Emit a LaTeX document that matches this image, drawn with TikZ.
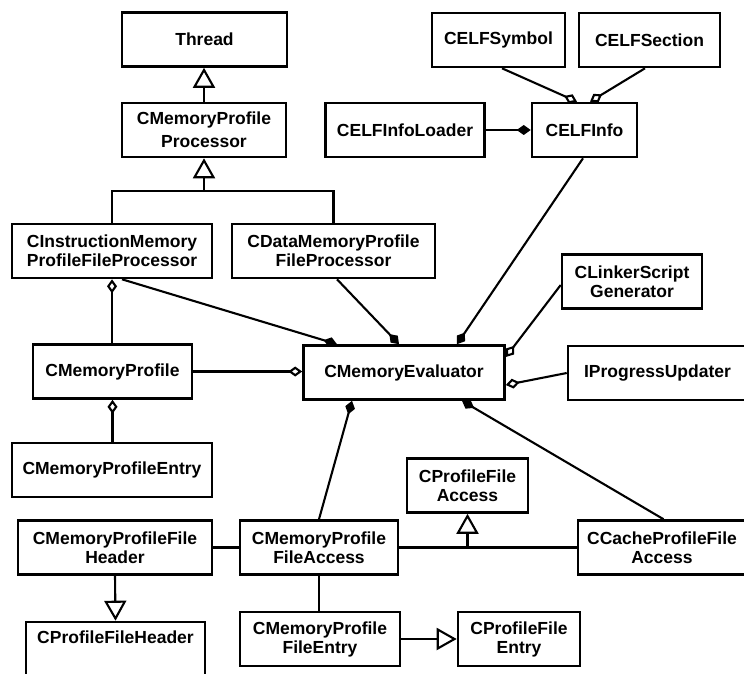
\documentclass[tikz,border=0pt]{standalone}
\usepackage{fontspec}
\setmainfont{Liberation Sans}
\usetikzlibrary{arrows.meta}
\begin{document}
\begin{tikzpicture}[x=1pt,y=-1pt,
  cls/.style={draw, line width=2.6pt, inner sep=0pt, align=center,
    font=\fontsize{17.5}{19}\selectfont\bfseries, minimum height=54pt},
  conn/.style={line width=2.1pt},
  inherit/.style={conn, -{Triangle[open,length=20pt,width=22pt]}},
  comp/.style={conn, -{Diamond[length=14pt,width=10pt]}},
  aggr/.style={conn, -{Diamond[open,length=14pt,width=10pt]}},
  aggrstart/.style={conn, {Diamond[open,length=14pt,width=10pt]}-},
]
\useasboundingbox (0,0) rectangle (744,674);
\clip (0,0) rectangle (744,674);
\fill[white] (0,0) rectangle (744,674);

% classes
\node[cls, minimum width=165pt] (thread) at (204.5,39.5) {Thread};
\node[cls, minimum width=164pt, font=\fontsize{17.5}{23}\selectfont\bfseries] (proc) at (204,130) {CMemoryProfile\\Processor};
\node[cls, minimum width=200pt] (instr) at (112,251) {CInstructionMemory\\ProfileFileProcessor};
\node[cls, minimum width=203pt] (data) at (333.5,251) {CDataMemoryProfile\\FileProcessor};
\node[cls, minimum width=133pt] (sym) at (498.5,40) {CELFSymbol};
\node[cls, minimum width=141pt] (sec) at (649.5,40) {CELFSection};
\node[cls, minimum width=159pt] (loader) at (405,130) {CELFInfoLoader};
\node[cls, minimum width=105pt] (elf) at (584.5,130) {CELFInfo};
\node[cls, minimum width=140pt] (linker) at (632,281.5) {CLinkerScript\\Generator};
\node[cls, minimum width=159pt] (profile) at (112.5,371.5) {CMemoryProfile};
\node[cls, minimum width=201pt] (eval) at (404,372.5) {CMemoryEvaluator};
\node[cls, minimum width=179pt] (progress) at (657.5,373) {IProgressUpdater};
\node[cls, minimum width=200pt] (entry) at (112,470) {CMemoryProfileEntry};
\node[cls, minimum width=121pt] (pfaccess) at (467.5,485.5) {CProfileFile\\Access};
\node[cls, minimum width=194pt] (header) at (115,547.5) {CMemoryProfileFile\\Header};
\node[cls, minimum width=158pt] (faccess) at (319,547.5) {CMemoryProfile\\FileAccess};
\node[cls, minimum width=168pt] (cache) at (662,547.5) {CCacheProfileFile\\Access};
\node[cls, minimum width=179pt, text height=21pt, text depth=40pt, anchor=base] (pfheader) at (115.5,643) {CProfileFileHeader};
\node[cls, minimum width=160pt] (fentry) at (320,639) {CMemoryProfile\\FileEntry};
\node[cls, minimum width=122pt] (pfentry) at (519,639) {CProfileFile\\Entry};

% generalisations
\draw[inherit] (proc.north) -- (proc.north |- thread.south);
\coordinate (fork) at (204,191);
\draw[conn] (instr.north) |- (data.north |- fork) -- (data.north);
\draw[inherit] (fork) -- (proc.south);
\draw[inherit] (header.south) -- (pfheader.north);
\draw[inherit] (fentry.east) -- (pfentry.west);
\draw[conn] (faccess.east) -- (cache.west);
\draw[inherit] (faccess.east -| pfaccess.south) -- (pfaccess.south);

% ELF information
\draw[comp] (loader.east) -- (elf.west);
\draw[aggr] ([xshift=3.5pt]sym.south) -- ([xshift=-7.5pt]elf.north);
\draw[aggr] ([xshift=-4.5pt]sec.south) -- ([xshift=5.5pt]elf.north);

% evaluator
\draw[comp] ([xshift=-1.5pt]elf.south) -- ([xshift=53pt]eval.north);
\draw[comp] ([xshift=10pt]instr.south) -- ([xshift=-67pt]eval.north);
\draw[comp] ([xshift=3.5pt]data.south) -- ([xshift=-5pt]eval.north);
\draw[aggr] (profile.east) -- (profile.east -| eval.west);
\draw[aggr] ([yshift=-3.5pt]linker.west) -- ([yshift=15.5pt]eval.east);
\draw[aggr] (progress.west) -- ([yshift=-12.5pt]eval.east);
\draw[comp] ([xshift=1.5pt]cache.north) -- ([xshift=58pt]eval.south);
\draw[comp] (faccess.north) -- ([xshift=-52pt]eval.south);

% profile data
\draw[aggrstart] (instr.south) -- (instr.south |- profile.north);
\draw[aggrstart] (profile.south) -- (profile.south |- entry.north);
\draw[conn] (header.east) -- (faccess.west);
\draw[conn] (faccess.south) -- (faccess.south |- fentry.north);
\end{tikzpicture}
\end{document}
